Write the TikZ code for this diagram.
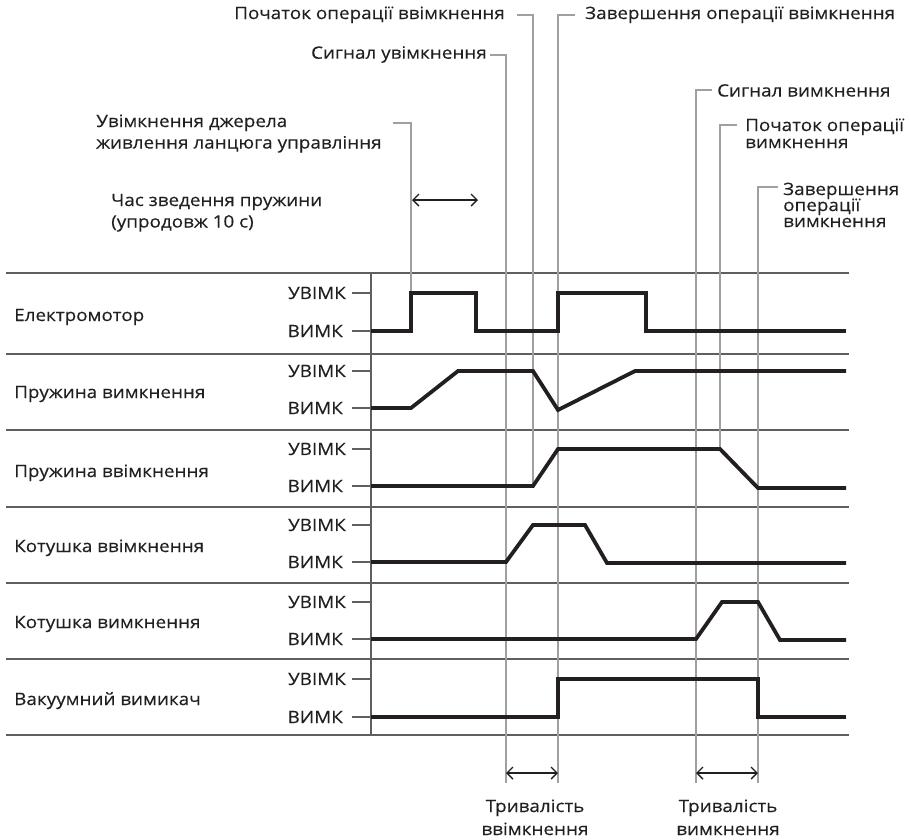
\documentclass[tikz,border=0pt]{standalone}
\usepackage{fontspec}
\setmainfont[FakeStretch=1.11,FakeBold=0.3]{Open Sans}
\usetikzlibrary{arrows.meta}
\definecolor{ink}{HTML}{231F20}
\definecolor{gridc}{HTML}{5F5F5F}
\definecolor{guidec}{HTML}{A0A0A0}
\begin{document}
\begin{tikzpicture}[x=1pt,y=-1pt,
  font=\fontsize{17}{20}\selectfont, text=ink,
  sepline/.style={gridc, line width=2pt},
  guideline/.style={guidec, line width=2pt},
  sig/.style={ink, line width=3.8pt, line join=miter},
  tickline/.style={gridc, line width=2pt},
  lvl/.style={anchor=east, inner sep=0pt},
  rowlab/.style={anchor=base west, inner sep=0pt},
  lab/.style={inner sep=0pt},
  dur/.style={ink, line width=1.4pt, {Straight Barb[length=6pt,width=12pt]}-{Straight Barb[length=6pt,width=12pt]}}
]
\useasboundingbox (0,0) rectangle (911,839);

% separators and axis
\foreach \y in {273,354,430,507,583,659,735}
  \draw[sepline] (6,\y) -- (849,\y);
\draw[sepline] (371,273) -- (371,735);

% row labels
\node[rowlab] (r1) at (14,321) {Електромотор};
\node[rowlab] (r2) at (14,398) {Пружина вимкнення};
\node[rowlab] (r3) at (14,477) {Пружина ввімкнення};
\node[rowlab] (r4) at (14,552) {Котушка ввімкнення};
\node[rowlab] (r5) at (14,628) {Котушка вимкнення};
\node[rowlab] (r6) at (14,705) {Вакуумний вимикач};

% level labels and ticks
\foreach \on/\off/\n in {293/331/1,371/408/2,449/486/3,525/562/4,602/639/5,679/717/6}{
  \node[lvl] (on\n) at (346,\on) {УВІМК};
  \node[lvl] (off\n) at (343,\off) {ВИМК};
  \draw[tickline] (352,\on) -- (371,\on);
  \draw[tickline] (352,\off) -- (371,\off);
}

% guide coordinates
\coordinate (tA) at (506,55);  \coordinate (gA) at (506,783);
\coordinate (tB) at (533,15);  \coordinate (gB) at (533,486);
\coordinate (tC) at (558,15);  \coordinate (gC) at (558,783);
\coordinate (tD) at (696,90);  \coordinate (gD) at (696,783);
\coordinate (tE) at (720,125); \coordinate (gE) at (720,449);
\coordinate (tF) at (758,187); \coordinate (gF) at (758,783);
\coordinate (tG) at (411,123); \coordinate (gG) at (411,293);

% top labels
\node[lab, anchor=base east] (lA) at (487,58.7) {Сигнал увімкнення};
\node[lab, anchor=base east] (lB) at (505,19) {Початок операції ввімкнення};
\node[lab, anchor=base west] (lC) at (585,19) {Завершення операції ввімкнення};
\node[lab, anchor=base west] (lD) at (717,96.5) {Сигнал вимкнення};
\node[lab, anchor=base west] (lE1) at (745,131) {Початок операції};
\node[lab, anchor=base west] (lE2) at (745,148) {вимкнення};
\node[lab, anchor=base west] (lF1) at (783,195) {Завершення};
\node[lab, anchor=base west] (lF2) at (783,211) {операції};
\node[lab, anchor=base west] (lF3) at (783,227) {вимкнення};
\node[lab, anchor=base west] (lG1) at (96,127) {Увімкнення джерела};
\node[lab, anchor=base west] (lG2) at (96,148.5) {живлення ланцюга управління};
\node[lab, anchor=base west] (lH1) at (111,206) {Час зведення пружини};
\node[lab, anchor=base west] (lH2) at (111,227.5) {(упродовж 10 с)};

% guides with stubs
\draw[guideline] ([xshift=-16pt]tA) -- (tA) -- (gA);
\draw[guideline] ([xshift=-16pt]tB) -- (tB) -- (gB);
\draw[guideline] ([xshift=17pt]tC) -- (tC) -- (gC);
\draw[guideline] ([xshift=16pt]tD) -- (tD) -- (gD);
\draw[guideline] ([xshift=17pt]tE) -- (tE) -- (gE);
\draw[guideline] ([xshift=20pt]tF) -- (tF) -- (gF);
\draw[guideline] ([xshift=-18pt]tG) -- (tG) -- (gG);

% spring charge arrow
\coordinate (h1) at (412,200); \coordinate (h2) at (478,200);
\draw[dur] (h1) -- (h2);

% duration arrows
\coordinate (d1) at (506,773); \coordinate (d2) at (558,773);
\coordinate (d3) at (696,773); \coordinate (d4) at (758,773);
\draw[dur] (d1) -- (d2);
\draw[dur] (d3) -- (d4);
\node[lab, anchor=base] (b1) at (535,812) {Тривалість};
\node[lab, anchor=base] (b2) at (535,835) {ввімкнення};
\node[lab, anchor=base] (b3) at (728,812) {Тривалість};
\node[lab, anchor=base] (b4) at (728,835) {вимкнення};

% signals
\draw[sig] (371,331) -- (411,331) -- (411,293) -- (476,293) -- (476,331)
  -- (558,331) -- (558,293) -- (646,293) -- (646,331) -- (846,331);
\draw[sig] (371,408) -- (411,408) -- (458,371) -- (533,371) -- (558,410)
  -- (635,371) -- (846,371);
\draw[sig] (371,486) -- (533,486) -- (558,449) -- (720,449) -- (758,488) -- (846,488);
\draw[sig] (371,562) -- (506,562) -- (533,525) -- (585,525) -- (607,563) -- (846,563);
\draw[sig] (371,639) -- (696,639) -- (722,602) -- (758,602) -- (780,640) -- (846,640);
\draw[sig] (371,717) -- (558,717) -- (558,679) -- (758,679) -- (758,717) -- (846,717);
\end{tikzpicture}
\end{document}
